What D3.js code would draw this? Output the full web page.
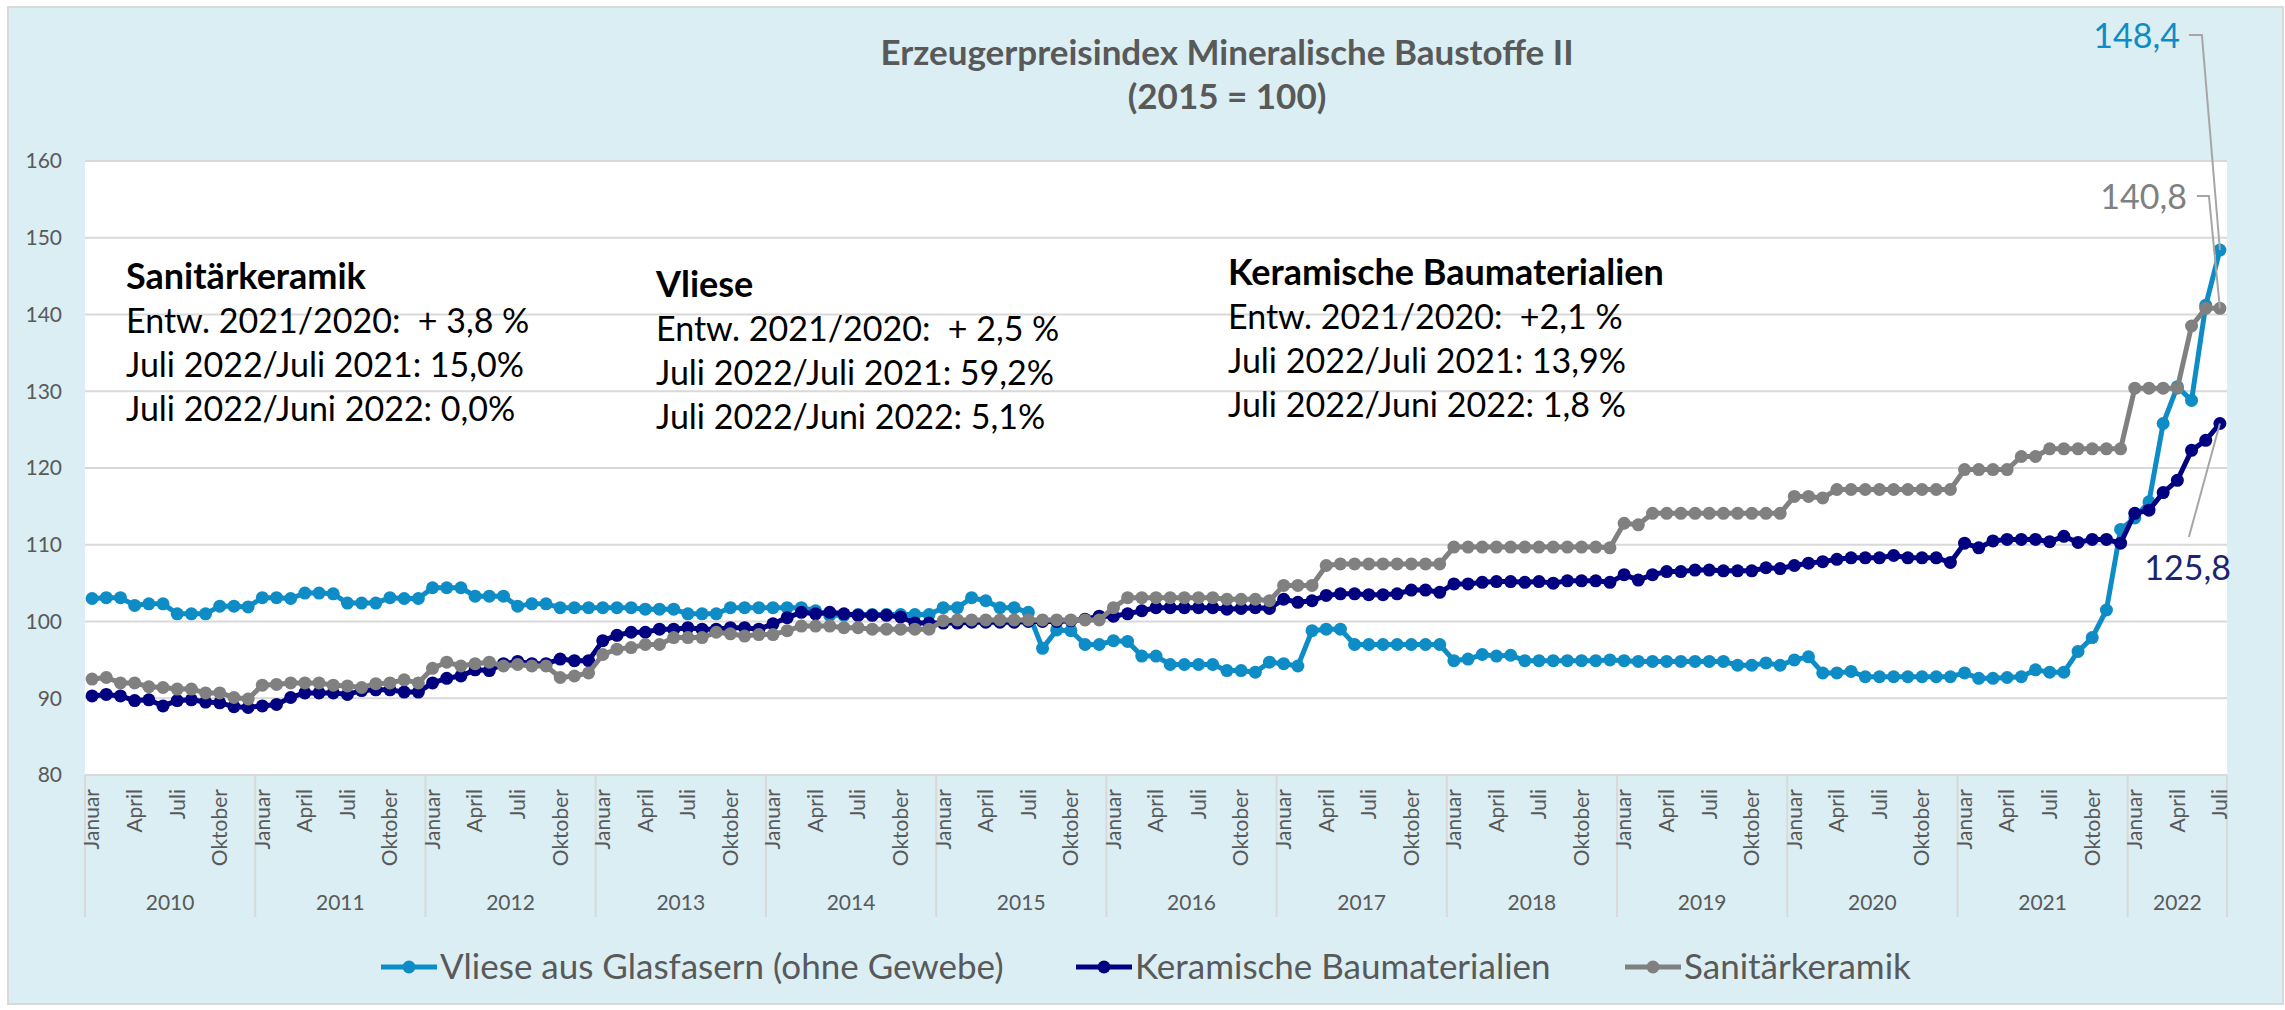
<!DOCTYPE html>
<html lang="de">
<head>
    <meta charset="utf-8">
    <title>Erzeugerpreisindex Mineralische Baustoffe II</title>
    <script src="https://d3js.org/d3.v7.min.js"></script>
    <style>
        body { margin: 0; background: #ffffff; }
        text { font-family: Lato, "Open Sans", sans-serif; }
    </style>
</head>
<body>
<script>
    var width = 2285, height = 1010;

    // categories: Januar 2010 .. Juli 2022
    var years = [2010, 2011, 2012, 2013, 2014, 2015, 2016, 2017, 2018, 2019, 2020, 2021, 2022];
    var monthNames = ["Januar", "Februar", "März", "April", "Mai", "Juni", "Juli",
                      "August", "September", "Oktober", "November", "Dezember"];
    var lastMonth = 7; // Juli 2022

    // Vliese aus Glasfasern (ohne Gewebe)
    var vliese = [
        103.0, 103.1, 103.1, 102.1, 102.3, 102.3, 101.0, 101.0, 101.0, 102.0, 102.0, 101.9,
        103.1, 103.1, 103.0, 103.7, 103.7, 103.6, 102.4, 102.4, 102.4, 103.1, 103.0, 103.0,
        104.4, 104.4, 104.4, 103.3, 103.3, 103.3, 102.0, 102.3, 102.3, 101.8, 101.8, 101.8,
        101.8, 101.8, 101.8, 101.6, 101.6, 101.6, 101.0, 101.0, 101.0, 101.8, 101.8, 101.8,
        101.8, 101.8, 101.8, 101.4, 100.8, 100.8, 100.9, 100.9, 100.9, 100.9, 100.9, 100.9,
        101.8, 101.8, 103.1, 102.7, 101.8, 101.8, 101.2, 96.5, 98.9, 98.8, 97.0, 97.0,
        97.5, 97.4, 95.5, 95.5, 94.4, 94.4, 94.4, 94.4, 93.6, 93.6, 93.4, 94.7,
        94.5, 94.2, 98.8, 99.0, 99.0, 97.0, 97.0, 97.0, 97.0, 97.0, 97.0, 97.0,
        94.9, 95.1, 95.7, 95.5, 95.6, 94.9, 94.9, 94.9, 94.9, 94.9, 94.9, 95.0,
        94.9, 94.8, 94.8, 94.8, 94.8, 94.8, 94.8, 94.8, 94.3, 94.3, 94.6, 94.3,
        95.0, 95.4, 93.3, 93.3, 93.5, 92.8, 92.8, 92.8, 92.8, 92.8, 92.8, 92.8,
        93.3, 92.6, 92.6, 92.7, 92.8, 93.7, 93.4, 93.4, 96.1, 97.9, 101.5, 112.0,
        113.5, 115.6, 125.8, 130.6, 128.8, 141.2, 148.4
    ];

    // Keramische Baumaterialien
    var keramik = [
        90.3, 90.5, 90.3, 89.7, 89.8, 89.0, 89.7, 89.8, 89.5, 89.4, 88.9, 88.8,
        89.0, 89.2, 90.1, 90.7, 90.7, 90.7, 90.5, 91.0, 91.1, 91.1, 90.8, 90.8,
        92.0, 92.6, 92.9, 93.7, 93.6, 94.5, 94.8, 94.5, 94.5, 95.1, 94.9, 94.9,
        97.5, 98.2, 98.6, 98.6, 99.0, 99.0, 99.2, 99.0, 99.0, 99.2, 99.2, 99.0,
        99.7, 100.5, 101.2, 101.0, 101.2, 101.0, 100.8, 100.8, 100.8, 100.6, 99.8, 99.8,
        99.8, 99.8, 99.9, 99.9, 99.9, 99.9, 100.0, 100.0, 100.0, 100.1, 100.3, 100.7,
        100.7, 101.0, 101.4, 101.8, 101.8, 101.8, 101.8, 101.8, 101.6, 101.7, 101.8, 101.7,
        102.9, 102.5, 102.7, 103.4, 103.6, 103.6, 103.5, 103.5, 103.6, 104.1, 104.1, 103.8,
        104.9, 104.9, 105.1, 105.2, 105.2, 105.1, 105.2, 105.0, 105.3, 105.3, 105.3, 105.1,
        106.1, 105.4, 106.1, 106.5, 106.5, 106.7, 106.7, 106.6, 106.6, 106.6, 107.0, 106.9,
        107.3, 107.6, 107.8, 108.1, 108.3, 108.3, 108.3, 108.6, 108.3, 108.3, 108.3, 107.7,
        110.2, 109.6, 110.5, 110.7, 110.7, 110.7, 110.4, 111.1, 110.3, 110.7, 110.7, 110.2,
        114.1, 114.5, 116.8, 118.4, 122.3, 123.6, 125.8
    ];

    // Sanitärkeramik
    var sanitaer = [
        92.5, 92.7, 92.0, 92.0, 91.5, 91.4, 91.2, 91.2, 90.7, 90.7, 90.1, 89.9,
        91.7, 91.8, 92.0, 92.0, 92.0, 91.7, 91.6, 91.4, 91.9, 92.0, 92.4, 92.0,
        93.9, 94.7, 94.2, 94.5, 94.7, 94.2, 94.4, 94.2, 94.2, 92.7, 92.9, 93.3,
        95.7, 96.4, 96.6, 97.0, 97.0, 97.9, 97.9, 97.9, 98.6, 98.4, 98.1, 98.3,
        98.3, 98.8, 99.4, 99.4, 99.4, 99.2, 99.2, 99.0, 99.0, 99.0, 99.0, 99.0,
        100.1, 100.2, 100.2, 100.2, 100.2, 100.2, 100.2, 100.2, 100.2, 100.2, 100.2, 100.2,
        101.8, 103.1, 103.1, 103.1, 103.1, 103.1, 103.1, 103.1, 102.9, 102.9, 102.9, 102.7,
        104.7, 104.7, 104.7, 107.3, 107.5, 107.5, 107.5, 107.5, 107.5, 107.5, 107.5, 107.5,
        109.7, 109.7, 109.7, 109.7, 109.7, 109.7, 109.7, 109.7, 109.7, 109.7, 109.7, 109.6,
        112.8, 112.6, 114.1, 114.1, 114.1, 114.1, 114.1, 114.1, 114.1, 114.1, 114.1, 114.1,
        116.3, 116.3, 116.1, 117.2, 117.2, 117.2, 117.2, 117.2, 117.2, 117.2, 117.2, 117.2,
        119.8, 119.8, 119.8, 119.8, 121.5, 121.5, 122.5, 122.5, 122.5, 122.5, 122.5, 122.5,
        130.4, 130.4, 130.4, 130.4, 138.5, 140.8, 140.8
    ];

    var yTicks = [80, 90, 100, 110, 120, 130, 140, 150, 160];
    var lastLabels = ["148,4", "125,8", "140,8"];

    var sanitaerNote = ["Sanitärkeramik", "Entw. 2021/2020:  + 3,8 %", "Juli 2022/Juli 2021: 15,0%", "Juli 2022/Juni 2022: 0,0%"];
    var vlieseNote = ["Vliese", "Entw. 2021/2020:  + 2,5 %", "Juli 2022/Juli 2021: 59,2%", "Juli 2022/Juni 2022: 5,1%"];
    var keramikNote = ["Keramische Baumaterialien", "Entw. 2021/2020:  +2,1 %", "Juli 2022/Juli 2021: 13,9%", "Juli 2022/Juni 2022: 1,8 %"];

    // build the month list
    var months = [];
    years.forEach(function(yr) {
        monthNames.forEach(function(m, k) {
            if (yr < 2022 || k < lastMonth) months.push({year: yr, month: k, name: m});
        });
    });

    var series = [
        {name: "Vliese aus Glasfasern (ohne Gewebe)", values: vliese, color: "#0E8CC6", label: lastLabels[0]},
        {name: "Keramische Baumaterialien", values: keramik, color: "#000080", label: lastLabels[1]},
        {name: "Sanitärkeramik", values: sanitaer, color: "#808080", label: lastLabels[2]}
    ];

    var svg = d3.select('body')
        .append('svg')
        .attr('width', width)
        .attr('height', height);

    // chart background
    svg.append('rect')
        .attr('x', 8).attr('y', 7)
        .attr('width', 2275).attr('height', 997)
        .attr('fill', '#DAEEF3')
        .attr('stroke', '#D9D9D9')
        .attr('stroke-width', 2);

    var plot = {left: 85, right: 2227, top: 161, bottom: 775};

    var x = d3.scaleBand()
        .domain(d3.range(months.length))
        .range([plot.left, plot.right]);
    var cx = function(i) { return x(i) + x.bandwidth() / 2; };

    var y = d3.scaleLinear()
        .domain([80, 160])
        .range([plot.bottom, plot.top]);

    // white plot area
    svg.append('rect')
        .attr('x', plot.left).attr('y', plot.top)
        .attr('width', plot.right - plot.left).attr('height', plot.bottom - plot.top)
        .attr('fill', '#ffffff');

    // gridlines
    svg.append('g').selectAll('line')
        .data(yTicks)
        .join('line')
        .attr('x1', plot.left).attr('x2', plot.right)
        .attr('y1', function(d) { return y(d); })
        .attr('y2', function(d) { return y(d); })
        .attr('stroke', '#D9D9D9')
        .attr('stroke-width', 2);

    // y labels
    svg.append('g').selectAll('text')
        .data(yTicks)
        .join('text')
        .attr('x', 62)
        .attr('y', function(d) { return y(d); })
        .attr('dy', '0.35em')
        .attr('text-anchor', 'end')
        .style('font-size', '21px')
        .style('fill', '#595959')
        .text(function(d) { return d; });

    // x axis: year separators
    var yearStarts = months.map(function(m, i) { return i; }).filter(function(i) { return months[i].month === 0; });
    var sepX = yearStarts.map(function(i) { return x(i); }).concat([plot.right]);
    svg.append('g').selectAll('line')
        .data(sepX)
        .join('line')
        .attr('x1', function(d) { return d; }).attr('x2', function(d) { return d; })
        .attr('y1', plot.bottom).attr('y2', 917)
        .attr('stroke', '#D9D9D9')
        .attr('stroke-width', 2);

    // month labels (every third month)
    svg.append('g').selectAll('text')
        .data(months.map(function(m, i) { return {m: m, i: i}; }).filter(function(d) { return d.m.month % 3 === 0; }))
        .join('text')
        .attr('transform', function(d) { return 'translate(' + cx(d.i) + ',789) rotate(-90)'; })
        .attr('dy', '0.35em')
        .attr('text-anchor', 'end')
        .style('font-size', '21px')
        .style('fill', '#595959')
        .text(function(d) { return d.m.name; });

    // year labels
    svg.append('g').selectAll('text')
        .data(years)
        .join('text')
        .attr('x', function(yr) {
            var idx = months.map(function(m, i) { return m.year === yr ? i : -1; }).filter(function(i) { return i >= 0; });
            return (x(idx[0]) + x(idx[idx.length - 1]) + x.bandwidth()) / 2;
        })
        .attr('y', 910)
        .attr('text-anchor', 'middle')
        .style('font-size', '21px')
        .style('fill', '#595959')
        .text(function(d) { return d; });

    // lines and markers
    var line = d3.line()
        .x(function(d, i) { return cx(i); })
        .y(function(d) { return y(d); });

    series.forEach(function(s) {
        svg.append('path')
            .datum(s.values)
            .attr('d', line)
            .attr('fill', 'none')
            .attr('stroke', s.color)
            .attr('stroke-width', 5)
            .attr('stroke-linejoin', 'round');
        svg.append('g').selectAll('circle')
            .data(s.values)
            .join('circle')
            .attr('cx', function(d, i) { return cx(i); })
            .attr('cy', function(d) { return y(d); })
            .attr('r', 6.5)
            .style('fill', s.color);
    });

    // labels for the last value, with leader lines
    var last = months.length - 1;
    var px = cx(last);
    var labelSpots = [
        {s: series[0], tx: px - 40, ty: 48, path: [[px - 31, 35], [px - 18, 35]], color: '#0E8CC6'},
        {s: series[2], tx: px - 33, ty: 209, path: [[px - 23, 196], [px - 11, 196]], color: '#808080'},
        {s: series[1], tx: px + 11, ty: 580, path: [[px - 31, 537]], color: '#1A2470'}
    ];
    labelSpots.forEach(function(l) {
        var pts = l.path.concat([[px, y(l.s.values[last])]]);
        svg.append('path')
            .attr('d', d3.line()(pts))
            .attr('fill', 'none')
            .attr('stroke', '#A6A6A6')
            .attr('stroke-width', 2);
        svg.append('text')
            .attr('x', l.tx).attr('y', l.ty)
            .attr('text-anchor', 'end')
            .style('font-size', '34px')
            .style('fill', l.color)
            .text(l.s.label);
    });

    // title
    var title = svg.append('text')
        .attr('x', 1227)
        .attr('text-anchor', 'middle')
        .style('font-size', '35px')
        .style('font-weight', 'bold')
        .style('fill', '#595959');
    title.append('tspan').attr('x', 1227).attr('y', 65).text('Erzeugerpreisindex Mineralische Baustoffe II');
    title.append('tspan').attr('x', 1227).attr('y', 109).text('(2015 = 100)');

    // text notes
    function note(lines, x0, y0) {
        var t = svg.append('text').style('fill', '#000000').style('white-space', 'pre');
        lines.forEach(function(s, k) {
            t.append('tspan')
                .attr('x', x0)
                .attr('y', y0 + k * 44)
                .style('font-size', k === 0 ? '36px' : '34px')
                .style('font-weight', k === 0 ? 'bold' : 'normal')
                .text(s);
        });
    }
    note(sanitaerNote, 126, 289);
    note(vlieseNote, 656, 297);
    note(keramikNote, 1228, 285);

    // legend
    var legendX = [381, 1076, 1625];
    series.forEach(function(s, k) {
        var g = svg.append('g').attr('transform', 'translate(' + legendX[k] + ',967)');
        g.append('line')
            .attr('x1', 0).attr('x2', 56)
            .attr('stroke', s.color)
            .attr('stroke-width', 5);
        g.append('circle').attr('cx', 28).attr('r', 6.5).style('fill', s.color);
        g.append('text')
            .attr('x', 59)
            .attr('dy', '0.35em')
            .style('font-size', '35px')
            .style('fill', '#595959')
            .text(s.name);
    });
</script>
</body>
</html>
